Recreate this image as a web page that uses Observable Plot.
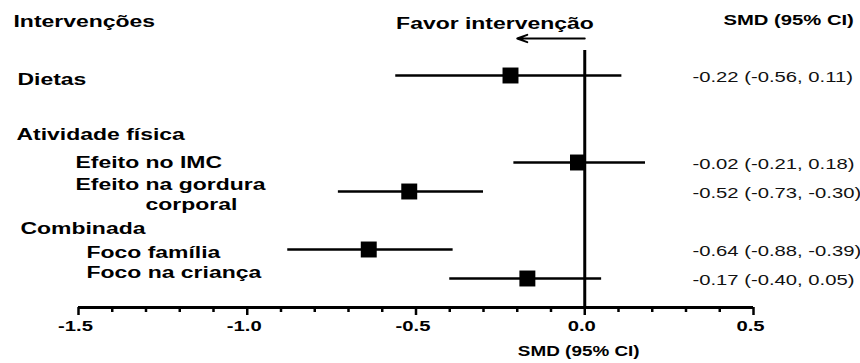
<!DOCTYPE html>
<html>
<head>
<meta charset="utf-8">
<script src="https://cdn.jsdelivr.net/npm/d3@7"></script>
<script src="https://cdn.jsdelivr.net/npm/@observablehq/plot@0.6"></script>
<style>
  html, body { margin: 0; padding: 0; background: #fff; }
  #chart { width: 860px; height: 363px; }
</style>
</head>
<body>
<div id="chart"></div>
<script>
// ---- data ----
const rows = ["Dietas", " ", "Atividade física", "Efeito no IMC", "Efeito na gordura corporal", "Combinada", "Foco família", "Foco na criança", "axis"];
const studies = ["Dietas", "Efeito no IMC", "Efeito na gordura corporal", "Foco família", "Foco na criança"];
const smd    = [-0.22, -0.02, -0.52, -0.64, -0.17];
const ciLow  = [-0.56, -0.21, -0.73, -0.88, -0.40];
const ciHigh = [ 0.11,  0.18, -0.30, -0.39,  0.05];
const majorTicks = [-1.5, -1.0, -0.5, 0.0, 0.5];
const tickLabels = ["-1.5", "-1.0", "-0.5", "0.0", "0.5"];
const minorTicks = [-1.4, -1.3, -1.2, -1.1, -0.9, -0.8, -0.7, -0.6, -0.4, -0.3, -0.2, -0.1, 0.1, 0.2, 0.3, 0.4];
const nullEffect = 0;
const favorArrow = [0, -0.2];
const headerLeft = "Intervenções";
const headerMid = "Favor intervenção";
const headerRight = "SMD (95% CI)";
const axisTitle = "SMD (95% CI)";

const table = studies.map((s, i) => ({
  label: s, smd: smd[i], lo: ciLow[i], hi: ciHigh[i],
  text: `${smd[i].toFixed(2)} (${ciLow[i].toFixed(2)}, ${ciHigh[i].toFixed(2)})`
}));
const ticks = majorTicks.map((v, i) => ({v, label: tickLabels[i]}));

const B = {fontWeight: "bold", fontSize: 17, textAnchor: "start", fill: "black", lineAnchor: "middle"};
const rowLabel = (name, dx, dy, text) =>
  Plot.text([name], {y: d => d, text: () => text ?? name, frameAnchor: "left", dx, dy, ...B});

const chart = Plot.plot({
  width: 860,
  height: 363,
  marginLeft: 78,
  marginRight: 107,
  marginTop: 50,
  marginBottom: 55,
  style: {fontFamily: "'Liberation Sans', Arial, sans-serif", fontSize: "15px", background: "white", color: "black"},
  x: {domain: [-1.5, 0.5], axis: null},
  y: {type: "point", domain: rows, range: [74, 308], padding: 0, axis: null},
  marks: [
    // null-effect line
    Plot.ruleX([nullEffect], {stroke: "black", strokeWidth: 3}),
    // axis line and ticks
    Plot.ruleY(["axis"], {stroke: "black", strokeWidth: 3}),
    Plot.ruleX(majorTicks, {x: d => d, y1: () => "axis", y2: () => "axis", insetBottom: -8, stroke: "black", strokeWidth: 2.5}),
    Plot.ruleX(minorTicks, {x: d => d, y1: () => "axis", y2: () => "axis", insetBottom: -5, stroke: "black", strokeWidth: 2.5}),
    Plot.text(ticks, {x: "v", y: () => "axis", text: "label", dy: 19, dx: -3, fontWeight: "bold", fontSize: 15, fill: "black", lineAnchor: "middle"}),
    Plot.text([axisTitle], {x: () => nullEffect, y: () => "axis", text: d => d, dy: 44, dx: -6, fontWeight: "bold", fontSize: 14, fill: "black", lineAnchor: "middle"}),
    // confidence intervals and point estimates
    Plot.ruleY(table, {y: "label", x1: "lo", x2: "hi", stroke: "black", strokeWidth: 2.5}),
    Plot.dot(table, {x: "smd", y: "label", symbol: "square", r: 9, fill: "black", stroke: null}),
    // values column
    Plot.text(table, {y: "label", text: "text", frameAnchor: "right", dx: -61, dy: 2, textAnchor: "start", fontSize: 15, fill: "#111", lineAnchor: "middle"}),
    // headers
    Plot.text([headerLeft], {text: d => d, frameAnchor: "top-left", dx: -65, dy: -29, ...B}),
    Plot.text([headerMid], {x: () => nullEffect, text: d => d, frameAnchor: "top", dx: 9, dy: -27, ...B, textAnchor: "end"}),
    Plot.text([headerRight], {text: d => d, frameAnchor: "top-right", dx: -30, dy: -30, fontWeight: "bold", fontSize: 15, textAnchor: "start", fill: "black", lineAnchor: "middle"}),
    Plot.arrow([favorArrow], {x1: d => d[0], x2: d => d[1], y1: () => "Dietas", y2: () => "Dietas", dy: -37, stroke: "black", strokeWidth: 2, headLength: 8, headAngle: 40}),
    // row labels
    rowLabel("Dietas", -61, 4),
    rowLabel("Atividade física", -62, 1),
    rowLabel("Efeito no IMC", -3, 0),
    rowLabel("Efeito na gordura corporal", -3, -7, "Efeito na gordura"),
    rowLabel("Efeito na gordura corporal", 67, 13, "corporal"),
    rowLabel("Combinada", -58, 8),
    rowLabel("Foco família", 8, 3),
    rowLabel("Foco na criança", 8, -6)
  ]
});

// the reference image is horizontally stretched: widen glyphs around their anchor
const SX = 1.35;
chart.querySelectorAll("text").forEach(t => {
  const x = +(t.getAttribute("x") || 0);
  const tr = t.getAttribute("transform") || "";
  t.setAttribute("transform", `${tr} translate(${x},0) scale(${SX},1) translate(${-x},0)`);
});

document.getElementById("chart").appendChild(chart);
</script>
</body>
</html>
